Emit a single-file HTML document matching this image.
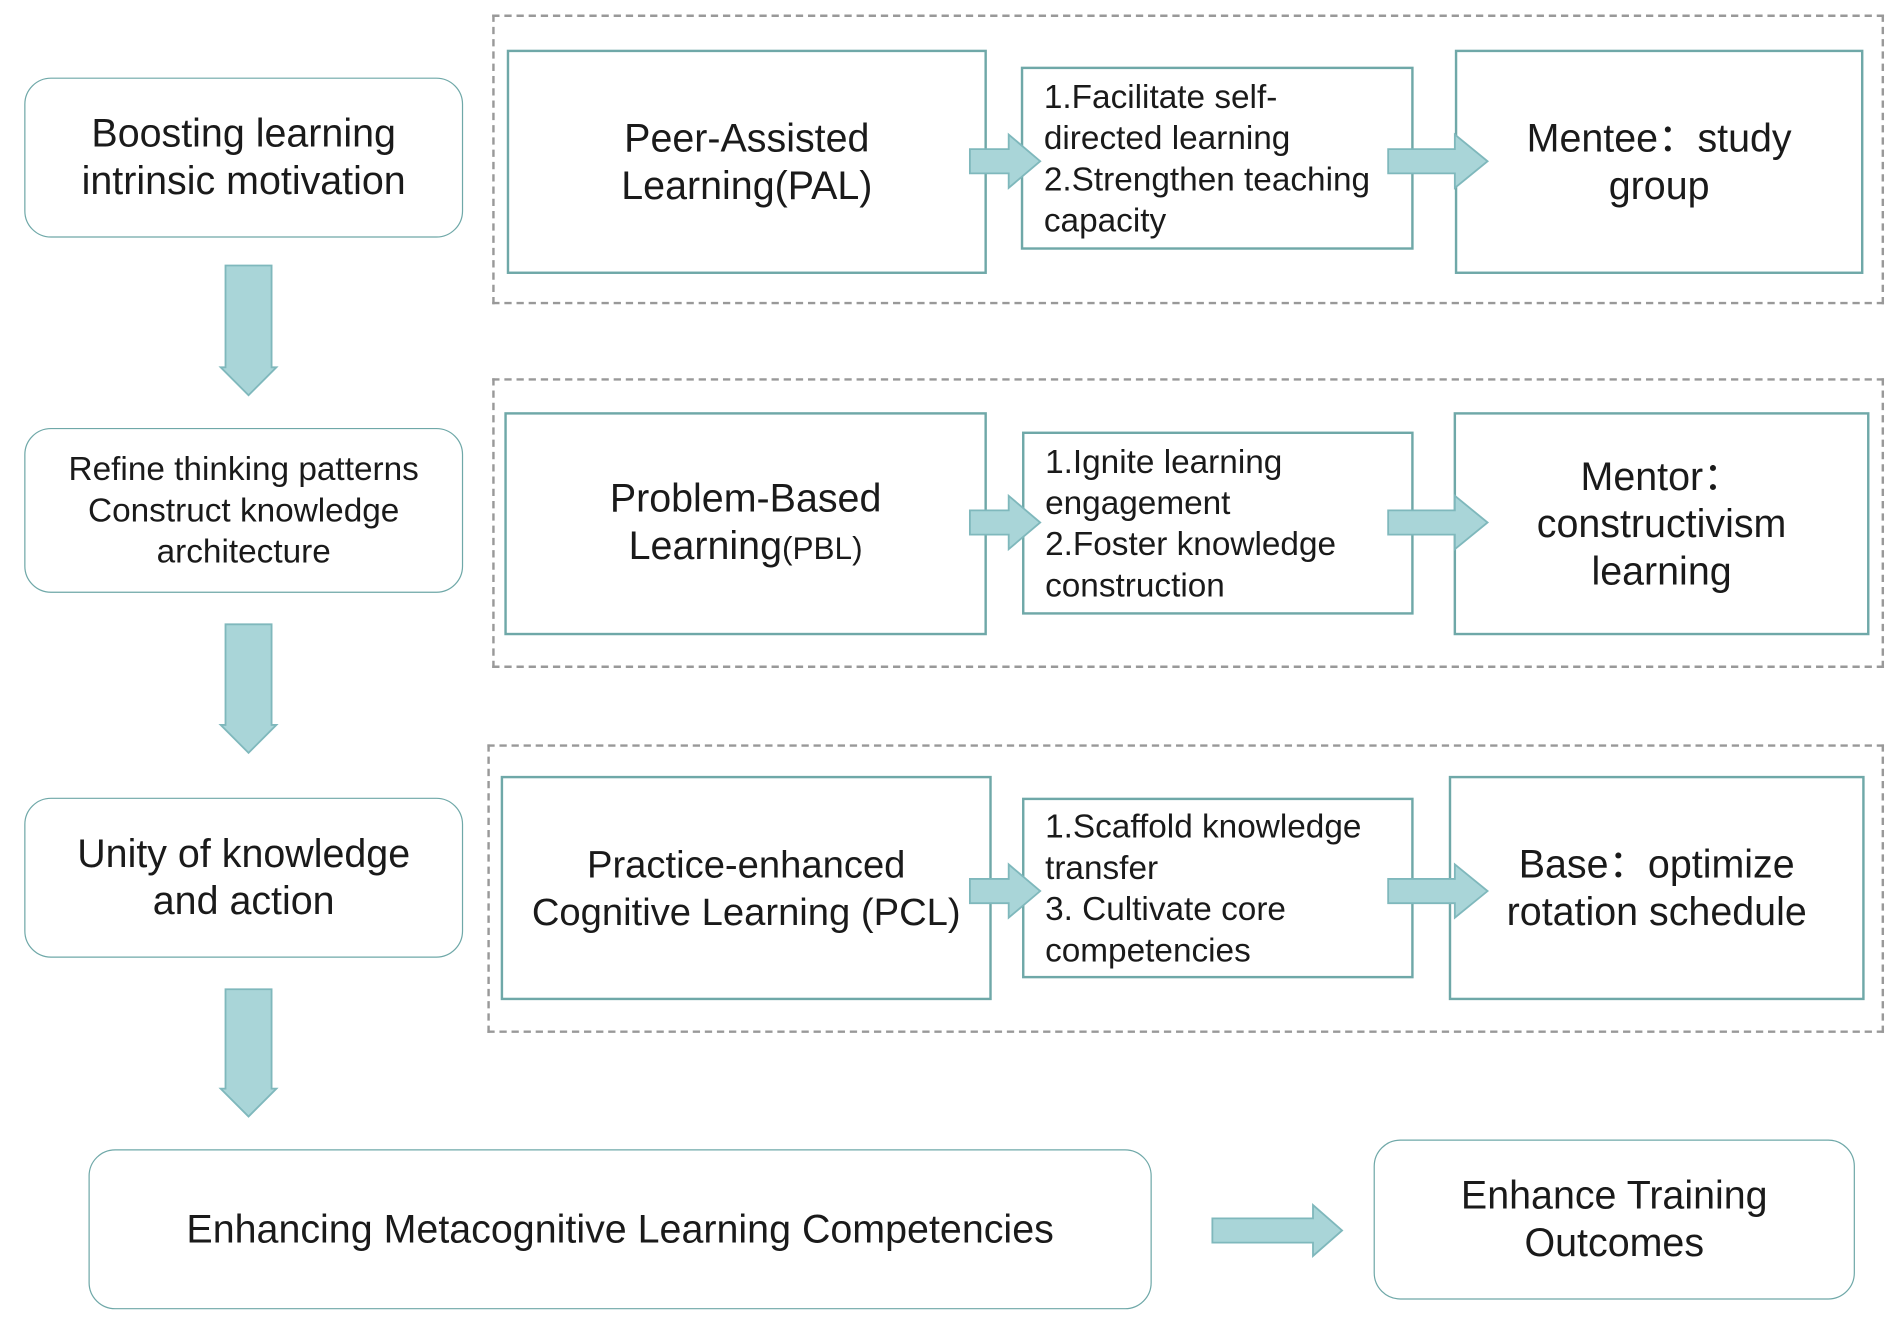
<!DOCTYPE html>
<html><head><meta charset="utf-8"><style>
html,body{margin:0;padding:0;background:#fff;width:1901px;height:1325px;overflow:hidden}
#c{position:absolute;left:0;top:0;width:1568px;height:1093px;transform:scale(1.21237,1.2123);transform-origin:0 0;font-family:"Liberation Sans",sans-serif;color:#1a1a1a}
.b{position:absolute;box-sizing:border-box;border:2px solid #6fa8a8;display:flex;align-items:center;justify-content:center;text-align:center;background:#fff}
.r{border-radius:22px;border-width:1.5px}
.d{position:absolute;box-sizing:border-box;border:2px dashed #999}
.m{justify-content:flex-start;text-align:left;padding-left:17px;font-size:27.5px;line-height:34px;white-space:nowrap}
.t{font-size:32.5px;line-height:39px}
svg{position:absolute;left:0;top:0}
</style></head><body><div id="c">
<div class="d" style="left:406px;top:12px;width:1148px;height:239px"></div>
<div class="d" style="left:406px;top:312px;width:1148px;height:239px"></div>
<div class="d" style="left:402px;top:614px;width:1152px;height:238px"></div>

<div class="b r t" style="left:20px;top:64px;width:362px;height:132px;font-size:32.5px"><div>Boosting learning<br>intrinsic motivation</div></div>
<div class="b r" style="left:20px;top:353px;width:362px;height:136px;font-size:27.5px;line-height:34px"><div>Refine thinking patterns<br>Construct knowledge<br>architecture</div></div>
<div class="b r t" style="left:20px;top:658px;width:362px;height:132px"><div>Unity of knowledge<br>and action</div></div>

<div class="b t" style="left:418px;top:41px;width:396px;height:185px"><div>Peer-Assisted<br>Learning(PAL)</div></div>
<div class="b m" style="left:842px;top:55px;width:324px;height:151px"><div>1.Facilitate self-<br>directed learning<br>2.Strengthen teaching<br>capacity</div></div>
<div class="b t" style="left:1200px;top:41px;width:337px;height:185px"><div>Mentee：study<br>group</div></div>

<div class="b t" style="left:416px;top:340px;width:398px;height:184px"><div>Problem-Based<br>Learning<span style="font-size:26px">(PBL)</span></div></div>
<div class="b m" style="left:843px;top:356px;width:323px;height:151px"><div>1.Ignite learning<br>engagement<br>2.Foster knowledge<br>construction</div></div>
<div class="b t" style="left:1199px;top:340px;width:343px;height:184px"><div>Mentor：<br>constructivism<br>learning</div></div>

<div class="b t" style="left:413px;top:640px;width:405px;height:185px;font-size:31.5px"><div>Practice-enhanced<br>Cognitive Learning (PCL)</div></div>
<div class="b m" style="left:843px;top:658px;width:323px;height:149px"><div>1.Scaffold knowledge<br>transfer<br>3. Cultivate core<br>competencies</div></div>
<div class="b t" style="left:1195px;top:640px;width:343px;height:185px"><div>Base：optimize<br>rotation schedule</div></div>

<div class="b r t" style="left:73px;top:948px;width:877px;height:132px"><div>Enhancing Metacognitive Learning Competencies</div></div>
<div class="b r t" style="left:1133px;top:940px;width:397px;height:132px"><div>Enhance Training<br>Outcomes</div></div>

<svg width="1568" height="1093">
<g fill="#a9d5d8" stroke="#7fb8bc" stroke-width="1.5">
<path d="M186 219H224V303H228L205 326L182 303H186Z"/>
<path d="M186 515H224V598H228L205 621L182 598H186Z"/>
<path d="M186 816H224V898H228L205 921L182 898H186Z"/>
<path d="M800 123H832V111L858 133L832 155V143H800Z"/>
<path d="M1145 123H1200V111L1227 133L1200 155V143H1145Z"/>
<path d="M800 421H832V409L858 431L832 453V441H800Z"/>
<path d="M1145 421H1200V409L1227 431L1200 453V441H1145Z"/>
<path d="M800 725H832V713L858 735L832 757V745H800Z"/>
<path d="M1145 725H1200V713L1227 735L1200 757V745H1145Z"/>
<path d="M1000 1005H1083V994L1107 1015L1083 1036V1025H1000Z"/>
</g></svg>
</div></body></html>
